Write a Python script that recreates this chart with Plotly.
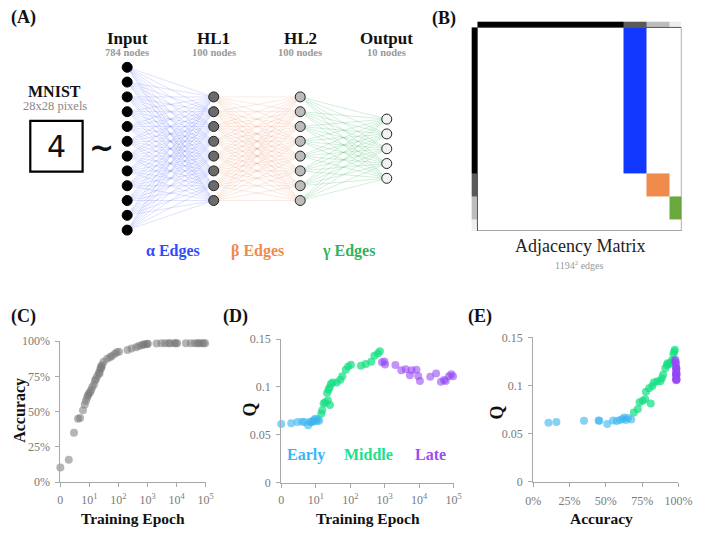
import plotly.graph_objects as go

W, H = 708, 536
SERIF = "Liberation Serif"

# ---------------- data ----------------
# Panel A: network schematic
layer_names = ["Input", "HL1", "HL2", "Output"]
layer_sizes_text = ["784 nodes", "100 nodes", "100 nodes", "10 nodes"]
layer_nodes_drawn = [12, 8, 8, 5]
layer_fill = ["#000000", "#6b6b6b", "#bcbcbc", "#f2f2f2"]
edge_labels = ["α Edges", "β Edges", "γ Edges"]
edge_line_colors = ["rgba(70,90,255,0.22)", "rgba(240,130,80,0.22)", "rgba(40,175,85,0.26)"]
edge_text_colors = ["#2f4dff", "#f08a4b", "#32b35c"]

# Panel B: adjacency matrix (schematic block sizes)
block_units = [63, 10, 10, 5]
block_shades = ["#000000", "#5a5a5a", "#bdbdbd", "#eeeeee"]
edge_block_colors = ["#1238ff", "#ef8b4c", "#6aaa3c"]

# Panels C-E: training trajectory
phase_names = ["Early", "Middle", "Late"]
phase_colors = ["rgba(60,180,240,0.62)", "rgba(20,225,130,0.72)", "rgba(150,70,245,0.58)"]
phase_text_colors = ["#3db5f0", "#22e08a", "#9a4cf5"]

epoch_log = [0.00, 0.29, 0.47, 0.61, 0.68, 0.78, 0.84, 0.88, 0.92, 0.95, 0.98, 1.02, 1.06, 1.10,
             1.16, 1.19, 1.23, 1.27, 1.35, 1.41, 1.33, 1.37, 1.40, 1.44, 1.49, 1.61, 1.71, 1.77,
             1.87, 1.94, 2.02, 2.31, 2.45, 2.61, 2.70, 2.80, 2.86,
             2.92, 2.99, 3.01, 3.31, 3.48, 3.61, 3.73, 3.78, 3.92, 3.97, 4.02, 4.32, 4.49, 4.63,
             4.72, 4.77, 4.86, 4.93, 4.98, 5.03]
accuracy = [10.5, 16.0, 35.0, 45.0, 45.5, 51.0, 55.0, 57.5, 59.8, 61.5, 62.7, 63.8, 65.3, 67.5,
            69.3, 72.0, 73.2, 75.3, 77.1, 80.9, 77.6, 79.8, 82.0, 83.1, 85.3, 87.5, 88.6, 89.4,
            90.9, 92.0, 92.5, 93.6, 94.7, 95.6, 96.5, 97.0, 97.5,
            97.7, 97.9, 98.0, 98.3, 98.4, 98.4, 98.4, 98.5, 98.5, 98.5, 98.5, 98.5, 98.5, 98.5,
            98.5, 98.5, 98.5, 98.5, 98.5, 98.5]
modularity = [0.0612, 0.0620, 0.0634, 0.0636, 0.0632, 0.0600, 0.0636, 0.0630, 0.0642, 0.0652, 0.0668, 0.0640, 0.0662, 0.0645,
              0.0720, 0.0755, 0.0826, 0.0840, 0.0858, 0.0812, 0.0935, 0.0970, 0.0995, 0.1030, 0.1045, 0.1045, 0.1075, 0.1112,
              0.1180, 0.1214, 0.1232, 0.1222, 0.1240, 0.1262, 0.1325, 0.1350, 0.1372,
              0.1258, 0.1265, 0.1235, 0.1230, 0.1173, 0.1184, 0.1122, 0.1173, 0.1180, 0.1115, 0.1061, 0.1105, 0.1139, 0.1054,
              0.1071, 0.1061, 0.1112, 0.1133, 0.1112, 0.1061]
phase = ["Early"] * 14 + ["Middle"] * 23 + ["Late"] * 20

epoch_tickvals = [0, 1, 2, 3, 4, 5]
epoch_ticktext = ["0", "10<sup>1</sup>", "10<sup>2</sup>", "10<sup>3</sup>", "10<sup>4</sup>", "10<sup>5</sup>"]
acc_tickvals = [0, 25, 50, 75, 100]
acc_ticktext = ["0%", "25%", "50%", "75%", "100%"]
q_tickvals = [0, 0.05, 0.1, 0.15]
q_ticktext = ["0", "0.05", "0.1", "0.15"]


# ---------------- helpers ----------------
def fx(px):
    return px / W


def fy(py):
    return 1 - py / H


fig = go.Figure()

# ---------------- Panel A ----------------
A_X0, A_DX = 123.0, 89.3
A_Y0, A_DY = 145.5, 15.2
ax_px = (95.0, 420.0)
ay_px = (50.0, 240.0)
xa5_range = [(ax_px[0] - A_X0) / A_DX, (ax_px[1] - A_X0) / A_DX]
ya5_range = [(A_Y0 - ay_px[1]) / A_DY, (A_Y0 - ay_px[0]) / A_DY]


def node_y(n):
    return [(n - 1) / 2 - j for j in range(n)]


for li in range(len(layer_names) - 1):
    xs, ys = [], []
    ya = node_y(layer_nodes_drawn[li])
    yb = node_y(layer_nodes_drawn[li + 1])
    for a in ya:
        for b in yb:
            xs += [li, li + 1, None]
            ys += [a, b, None]
    fig.add_trace(go.Scatter(x=xs, y=ys, mode="lines", xaxis="x5", yaxis="y5",
                             line=dict(color=edge_line_colors[li], width=0.8),
                             hoverinfo="skip"))

for li, n in enumerate(layer_nodes_drawn):
    fig.add_trace(go.Scatter(x=[li] * n, y=node_y(n), mode="markers", xaxis="x5", yaxis="y5",
                             marker=dict(size=10, color=layer_fill[li],
                                         line=dict(color="#222" if li else "#000", width=1)),
                             hoverinfo="skip", cliponaxis=False))

# ---------------- Panel B ----------------
edges_b = [0]
for u in block_units:
    edges_b.append(edges_b[-1] + u)
total_b = edges_b[-1]
bar = 2.6
nb = len(block_units)
zmat = [[0] * nb for _ in range(nb)]
for k in range(nb - 1):
    zmat[k][k + 1] = k + 1

fig.add_trace(go.Heatmap(x=edges_b, y=edges_b, z=zmat, xaxis="x4", yaxis="y4", zmin=0, zmax=3,
                         colorscale=[[0, "#ffffff"], [0.2, "#ffffff"],
                                     [0.2, edge_block_colors[0]], [0.5, edge_block_colors[0]],
                                     [0.5, edge_block_colors[1]], [0.8, edge_block_colors[1]],
                                     [0.8, edge_block_colors[2]], [1, edge_block_colors[2]]],
                         showscale=False, hoverinfo="skip"))
shade_scale = [[0, block_shades[0]], [0.25, block_shades[0]],
               [0.25, block_shades[1]], [0.5, block_shades[1]],
               [0.5, block_shades[2]], [0.75, block_shades[2]],
               [0.75, block_shades[3]], [1, block_shades[3]]]
fig.add_trace(go.Heatmap(x=edges_b, y=[-bar, 0], z=[list(range(nb))], xaxis="x4", yaxis="y4",
                         zmin=0, zmax=3, colorscale=shade_scale, showscale=False, hoverinfo="skip"))
fig.add_trace(go.Heatmap(x=[-bar, 0], y=edges_b, z=[[k] for k in range(nb)], xaxis="x4", yaxis="y4",
                         zmin=0, zmax=3, colorscale=shade_scale, showscale=False, hoverinfo="skip"))

# ---------------- Panels C, D, E ----------------
fig.add_trace(go.Scatter(x=epoch_log, y=accuracy, mode="markers", xaxis="x", yaxis="y",
                         marker=dict(size=8, color="rgba(120,120,120,0.55)"),
                         cliponaxis=False, hoverinfo="skip"))

for pi, pname in enumerate(phase_names):
    idx = [i for i, p in enumerate(phase) if p == pname]
    fig.add_trace(go.Scatter(x=[epoch_log[i] for i in idx], y=[modularity[i] for i in idx],
                             mode="markers", xaxis="x2", yaxis="y2",
                             marker=dict(size=8, color=phase_colors[pi]),
                             cliponaxis=False, hoverinfo="skip"))
    fig.add_trace(go.Scatter(x=[accuracy[i] for i in idx], y=[modularity[i] for i in idx],
                             mode="markers", xaxis="x3", yaxis="y3",
                             marker=dict(size=8, color=phase_colors[pi]),
                             cliponaxis=False, hoverinfo="skip"))

axstyle = dict(showline=True, linecolor="#a8a8a8", linewidth=1, ticks="outside", ticklen=4,
               tickcolor="#a8a8a8", showgrid=False, zeroline=False, fixedrange=True,
               tickfont=dict(family=SERIF, size=12, color="#7a7a7a"))
hidden = dict(visible=False, fixedrange=True)

fig.update_layout(
    width=W, height=H, margin=dict(l=0, r=0, t=0, b=0),
    paper_bgcolor="white", plot_bgcolor="white", showlegend=False,
    xaxis=dict(domain=[fx(54), fx(204)], range=[0, 5], anchor="y", tickvals=epoch_tickvals,
               ticktext=epoch_ticktext, ticklabelstandoff=2, **axstyle),
    yaxis=dict(domain=[fy(488), fy(343)], range=[0, 100], anchor="x", tickvals=acc_tickvals,
               ticktext=acc_ticktext, ticklabelstandoff=3, **axstyle),
    xaxis2=dict(domain=[fx(282), fx(460)], range=[0, 5], anchor="y2", tickvals=epoch_tickvals,
                ticktext=epoch_ticktext, ticklabelstandoff=2, **axstyle),
    yaxis2=dict(domain=[fy(488.3), fy(341)], range=[0, 0.15], anchor="x2", tickvals=q_tickvals,
                ticktext=q_ticktext, ticklabelstandoff=3, **axstyle),
    xaxis3=dict(domain=[fx(542), fx(692)], range=[0, 100], anchor="y3", tickvals=acc_tickvals,
                ticktext=acc_ticktext, ticklabelstandoff=4, **axstyle),
    yaxis3=dict(domain=[fy(487.3), fy(339.3)], range=[0, 0.15], anchor="x3", tickvals=q_tickvals,
                ticktext=q_ticktext, ticklabelstandoff=3, **axstyle),
    xaxis4=dict(domain=[fx(478.3), fx(695)], range=[-bar, total_b], anchor="y4", **hidden),
    yaxis4=dict(domain=[fy(230), fy(14.8)], range=[total_b, -bar], anchor="x4", **hidden),
    xaxis5=dict(domain=[fx(ax_px[0]), fx(ax_px[1])], range=xa5_range, anchor="y5", **hidden),
    yaxis5=dict(domain=[fy(ay_px[1]), fy(ay_px[0])], range=ya5_range, anchor="x5", **hidden),
)

# matrix outline
fig.add_shape(type="rect", xref="x4", yref="y4", x0=0, x1=total_b, y0=0, y1=total_b,
              line=dict(color="#555", width=1), fillcolor="rgba(0,0,0,0)")
# MNIST image frame
fig.add_shape(type="rect", xref="paper", yref="paper", x0=fx(23), x1=fx(77), y0=fy(169), y1=fy(117),
              line=dict(color="#000", width=2.2), fillcolor="white")

ann = []


def txt(text, x, y, size, color="#111", bold=False, family=SERIF, angle=0, xref="paper"):
    ann.append(dict(text=text, x=x, y=y, xref=xref, yref="paper", showarrow=False,
                    xanchor="center", yanchor="middle", textangle=angle,
                    font=dict(family=family, size=size, color=color,
                              weight="bold" if bold else "normal")))


# panel labels
txt("(A)", fx(16), fy(11), 18, bold=True)
txt("(B)", fx(450), fy(12), 18, bold=True)
txt("(C)", fx(16), fy(318), 18, bold=True)
txt("(D)", fx(235), fy(318), 18, bold=True)
txt("(E)", fx(487), fy(318), 18, bold=True)

# panel A texts
for li, name in enumerate(layer_names):
    txt(name, li, fy(32), 17, bold=True, xref="x5")
    txt(layer_sizes_text[li], li, fy(47), 10.5, color="#999", bold=True, xref="x5")
txt("MNIST", fx(48), fy(87), 16, bold=True)
txt("28x28 pixels", fx(48), fy(102), 12.5, color="#888")
txt("4", fx(50), fy(143), 30, family="DejaVu Sans", color="#111")
txt("~", fx(97), fy(144), 30, bold=True, family="DejaVu Sans")
edge_label_px = [170, 258, 351]
for k, lab in enumerate(edge_labels):
    txt(lab, fx(edge_label_px[k]), fy(251), 16, color=edge_text_colors[k], bold=True)

# panel B texts
txt("Adjacency Matrix", fx(590), fy(245), 18, color="#222")
txt("1194<sup>2</sup> edges", fx(590), fy(265), 10, color="#999")

# panel C/D/E axis titles
txt("Accuracy", fx(13), fy(414), 16, bold=True, angle=-90)
txt("Training Epoch", fx(129), fy(525), 15.5, bold=True)
txt("Q", fx(250), fy(413), 18, bold=True, angle=-90)
txt("Training Epoch", fx(372), fy(525), 15.5, bold=True)
txt("Q", fx(505), fy(416), 18, bold=True, angle=-90)
txt("Accuracy", fx(613), fy(525), 15.5, bold=True)

phase_label_px = [308, 372, 436]
for pi, pname in enumerate(phase_names):
    txt(pname, fx(phase_label_px[pi]), fy(460), 16, color=phase_text_colors[pi], bold=True)

fig.update_layout(annotations=ann)
fig.write_html("out.html", config={"displayModeBar": False},
               post_script="document.body.style.margin='0px';document.body.style.overflow='hidden';")
